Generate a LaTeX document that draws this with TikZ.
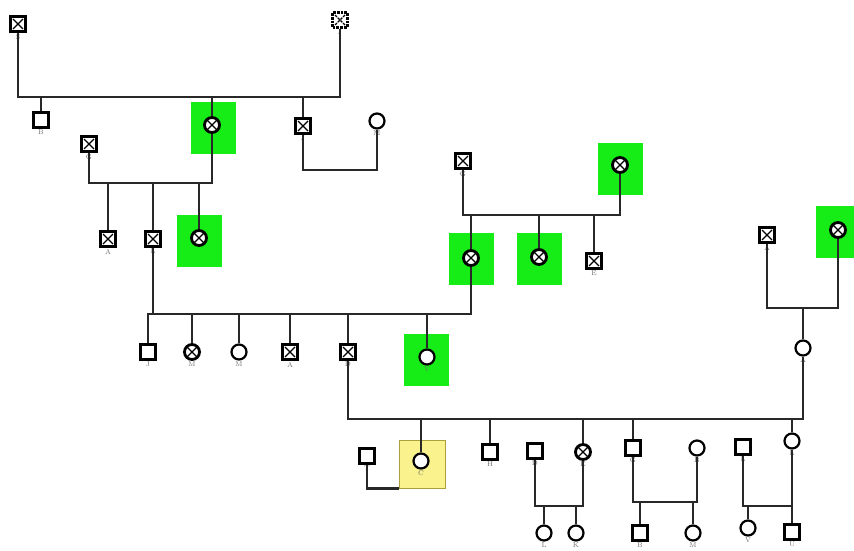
\documentclass[tikz,border=0pt]{standalone}
\usepackage{tikz}
\usetikzlibrary{positioning}
\definecolor{pedgreen}{RGB}{22,236,22}
\definecolor{pedyellow}{RGB}{250,242,140}
\definecolor{pedolive}{RGB}{170,160,60}
\definecolor{pedline}{RGB}{40,40,40}
\definecolor{pedgray}{RGB}{110,110,110}

\tikzset{
  male/.style={draw, line width=2.2pt, fill=white, minimum size=15pt, inner sep=0pt},
  female/.style={draw, circle, line width=2.2pt, fill=white, minimum size=15pt, inner sep=0pt},
  crossed/.style={line width=2.8pt, path picture={
      \draw[line width=1.2pt] ([shift={(2.5pt,2.5pt)}]path picture bounding box.south west) -- ([shift={(-2.5pt,-2.5pt)}]path picture bounding box.north east)
                              ([shift={(2.5pt,-2.5pt)}]path picture bounding box.north west) -- ([shift={(-2.5pt,2.5pt)}]path picture bounding box.south east);}},
  hit/.style={fill=pedgreen, minimum width=45pt, minimum height=52pt, inner sep=0pt},
  proband/.style={draw=pedolive, line width=0.8pt, fill=pedyellow, minimum width=46pt, minimum height=48pt, inner sep=0pt},
  tag/.style={font=\fontsize{7}{7}\selectfont, text=pedgray, inner sep=1pt},
  link/.style={pedline, line width=2.8pt}
}

\begin{document}
\begin{tikzpicture}[x=1pt, y=-1pt]
\useasboundingbox (0,0) rectangle (854,551);

% Highlight boxes
\node[hit] (bxa) at (213,128) {};
\node[hit] (bxb) at (199,241) {};
\node[hit] (bxc) at (620,169) {};
\node[hit] (bxd) at (471,259) {};
\node[hit] (bxe) at (539,259) {};
\node[hit] (bxf) at (426,360) {};
\node[hit, minimum width=43pt] (bxg) at (837,232) {};
\node[proband] (bxy) at (422,464) {};

% Generation I
\node[male, crossed, label={[tag]below:S}] (sa) at (18,24) {};
\node[male, crossed, densely dotted, label={[tag]below:J}] (ja) at (340,20) {};

% Generation II
\node[male, label={[tag]below:B}] (ba) at (41,120) {};
\node[female, crossed] (ga) at (212,125) {};
\node[male, crossed, label={[tag]below:J}] (jb) at (303,126) {};
\node[female, label={[tag]below:M}] (ma) at (377,121) {};

% Generation III
\node[male, crossed, label={[tag]below:G}] (gb) at (89,144) {};
\node[male, crossed, label={[tag]below:A}] (aa) at (108,239) {};
\node[male, crossed, label={[tag]below:L}] (la) at (153,239) {};
\node[female, crossed] (gc) at (199,238) {};
\node[male, crossed, label={[tag]below:G}] (gd) at (463,161) {};
\node[female, crossed] (ge) at (620,165) {};
\node[female, crossed] (gf) at (471,258) {};
\node[female, crossed] (gg) at (539,257) {};
\node[male, crossed, label={[tag]below:E}] (ea) at (594,261) {};
\node[male, crossed, label={[tag]below:A}] (ab) at (767,235) {};
\node[female, crossed] (gh) at (838,230) {};

% Generation IV
\node[male, label={[tag]below:J}] (jc) at (148,352) {};
\node[female, crossed, label={[tag]below:M}] (mb) at (192,352) {};
\node[female, label={[tag]below:M}] (mc) at (239,352) {};
\node[male, crossed, label={[tag]below:A}] (ac) at (290,352) {};
\node[male, crossed, label={[tag]below:D}] (da) at (348,352) {};
\node[female, label={[tag]below:V}] (va) at (427,357) {};
\node[female, label={[tag]below:A}] (ad) at (803,348) {};

% Generation V
\node[male, label={[tag]below:T}] (ta) at (367,456) {};
\node[female, label={[tag]below:C}] (ca) at (421,461) {};
\node[male, label={[tag]below:H}] (ha) at (490,452) {};
\node[male, line width=2.8pt, label={[tag]below:D}] (db) at (535,451) {};
\node[female, crossed, label={[tag]below:E}] (eb) at (583,452) {};
\node[male, label={[tag]below:G}] (gi) at (633,448) {};
\node[female, label={[tag]below:B}] (bb) at (697,448) {};
\node[male, label={[tag]below:L}] (lb) at (743,447) {};
\node[female, label={[tag]below:L}] (lc) at (792,441) {};

% Generation VI
\node[female, label={[tag]below:L}] (ld) at (544,533) {};
\node[female, label={[tag]below:K}] (ka) at (576,533) {};
\node[male, label={[tag]below:B}] (bc) at (640,533) {};
\node[female, label={[tag]below:M}] (md) at (693,533) {};
\node[female, label={[tag]below:V}] (vb) at (748,528) {};
\node[male, label={[tag]below:U}] (ua) at (792,532) {};

% Unions
\coordinate (ua1) at (179,97);
\coordinate (ua2) at (340,170);
\coordinate (ua3) at (150,183);
\coordinate (ua4) at (310,314);
\coordinate (ua5) at (540,215);
\coordinate (ua6) at (803,308);
\coordinate (ua7) at (575,419);
\coordinate (ua8) at (560,506);
\coordinate (ua9) at (665,502);
\coordinate (ua10) at (768,506);

\draw[link] (sa) |- (ua1) -| (ja);
\draw[link] (jb) |- (ua2) -| (ma);
\draw[link] (gb) |- (ua3) -| (ga);
\draw[link] (la) |- (ua4) -| (gf);
\draw[link] (gd) |- (ua5) -| (ge);
\draw[link] (ab) |- (ua6) -| (gh);
\draw[link] (da) |- (ua7) -| (ad);
\draw[link] (ta) |- (bxy.south west);
\draw[link] (db) |- (ua8) -| (eb);
\draw[link] (gi) |- (ua9) -| (bb);
\draw[link] (lb) |- (ua10) -| (lc);

% Descent lines
\foreach \kid in {ba, ga, jb} \draw[link] (ua1 -| \kid) -- (\kid);
\foreach \kid in {aa, la, gc} \draw[link] (ua3 -| \kid) -- (\kid);
\foreach \kid in {gf, gg, ea} \draw[link] (ua5 -| \kid) -- (\kid);
\draw[link] (jc) |- (ua4 -| la);
\foreach \kid in {mb, mc, ac, da, va} \draw[link] (ua4 -| \kid) -- (\kid);
\draw[link] (ua6) -- (ad);
\foreach \kid in {ca, ha, eb, gi, lc} \draw[link] (ua7 -| \kid) -- (\kid);
\foreach \kid in {ld, ka} \draw[link] (ua8 -| \kid) -- (\kid);
\foreach \kid in {bc, md} \draw[link] (ua9 -| \kid) -- (\kid);
\foreach \kid in {vb, ua} \draw[link] (ua10 -| \kid) -- (\kid);
\end{tikzpicture}
\end{document}
